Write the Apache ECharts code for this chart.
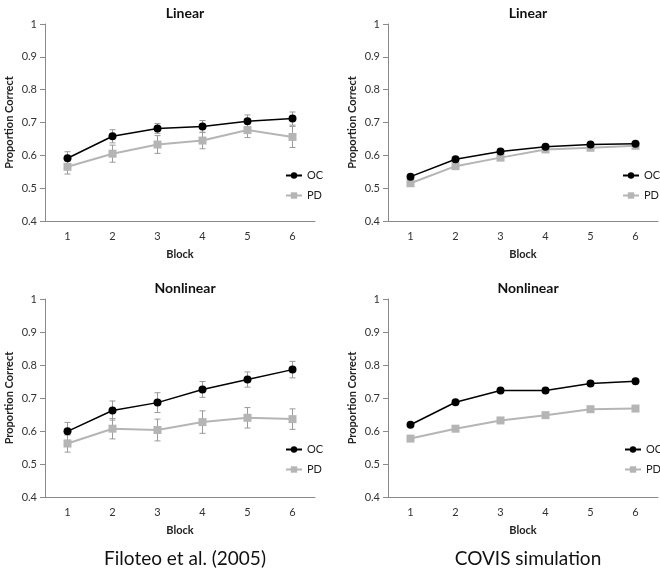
<!DOCTYPE html>
<html>
<head>
<meta charset="utf-8">
<script src="https://cdn.jsdelivr.net/npm/echarts@6/dist/echarts.min.js"></script>
<style>html,body{margin:0;padding:0;background:#fff}#c{width:660px;height:568px}</style>
</head>
<body>
<div id="c"></div>
<script>
const blocks = ['1', '2', '3', '4', '5', '6'];
const yTicks = [0.4, 0.5, 0.6, 0.7, 0.8, 0.9, 1];

// Filoteo et al. (2005) - Linear
const filLinOC = [0.591, 0.658, 0.682, 0.688, 0.704, 0.712];
const filLinOCErr = [0.020, 0.020, 0.015, 0.018, 0.019, 0.020];
const filLinPD = [0.565, 0.605, 0.633, 0.645, 0.677, 0.656];
const filLinPDErr = [0.022, 0.026, 0.027, 0.025, 0.023, 0.032];
// COVIS simulation - Linear
const covLinOC = [0.535, 0.588, 0.612, 0.626, 0.633, 0.635];
const covLinPD = [0.515, 0.567, 0.593, 0.618, 0.623, 0.629];
// Filoteo et al. (2005) - Nonlinear
const filNonOC = [0.599, 0.662, 0.686, 0.726, 0.756, 0.786];
const filNonOCErr = [0.027, 0.029, 0.030, 0.024, 0.023, 0.025];
const filNonPD = [0.562, 0.607, 0.603, 0.627, 0.640, 0.636];
const filNonPDErr = [0.026, 0.031, 0.033, 0.034, 0.031, 0.031];
// COVIS simulation - Nonlinear
const covNonOC = [0.619, 0.687, 0.723, 0.723, 0.744, 0.751];
const covNonPD = [0.577, 0.607, 0.632, 0.648, 0.666, 0.668];

const panelTitles = ['Linear', 'Linear', 'Nonlinear', 'Nonlinear'];
const footnotes = ['Filoteo et al. (2005)', 'COVIS simulation'];

const FONT = 'Lato, "Open Sans", sans-serif';
const OC_COLOR = '#000000';
const PD_COLOR = '#b5b5b5';
const ERR_COLOR = '#9a9a9a';

const grids = [
  {left: 45, top: 24, width: 270, height: 197},
  {left: 388, top: 24, width: 270, height: 197},
  {left: 45, top: 299, width: 270, height: 198},
  {left: 388, top: 299, width: 270, height: 198}
];
const legendLeft = [285, 622, 285, 624];
const legendTopOffset = [146, 146, 145, 145];

const panels = [
  {oc: filLinOC, pd: filLinPD, ocErr: filLinOCErr, pdErr: filLinPDErr},
  {oc: covLinOC, pd: covLinPD},
  {oc: filNonOC, pd: filNonPD, ocErr: filNonOCErr, pdErr: filNonPDErr},
  {oc: covNonOC, pd: covNonPD}
];

function errRender(params, api) {
  const x = api.value(0);
  const lo = api.coord([x, api.value(1)]);
  const hi = api.coord([x, api.value(2)]);
  const w = 3;
  const st = {stroke: ERR_COLOR, lineWidth: 1};
  return {
    type: 'group',
    children: [
      {type: 'line', shape: {x1: lo[0], y1: lo[1], x2: hi[0], y2: hi[1]}, style: st},
      {type: 'line', shape: {x1: lo[0] - w, y1: lo[1], x2: lo[0] + w, y2: lo[1]}, style: st},
      {type: 'line', shape: {x1: hi[0] - w, y1: hi[1], x2: hi[0] + w, y2: hi[1]}, style: st}
    ]
  };
}

const xAxes = [], yAxes = [], series = [], titles = [], legends = [];

grids.forEach((g, i) => {
  xAxes.push({
    type: 'category', gridIndex: i, data: blocks, boundaryGap: true,
    name: 'Block', nameLocation: 'middle', nameGap: 28,
    nameTextStyle: {fontFamily: FONT, fontWeight: 'bold', fontSize: 11, color: '#222'},
    axisLine: {lineStyle: {color: '#8a8a8a', width: 1}},
    axisTick: {inside: true, length: 4, lineStyle: {color: '#8a8a8a'}},
    axisLabel: {fontFamily: FONT, fontSize: 11, color: '#333', margin: 10},
    splitLine: {show: false}
  });
  yAxes.push({
    type: 'value', gridIndex: i, min: 0.4, max: 1, interval: 0.1,
    name: 'Proportion Correct', nameLocation: 'middle', nameGap: 30,
    nameTextStyle: {fontFamily: FONT, fontWeight: 'bold', fontSize: 11, color: '#222'},
    axisLine: {show: true, lineStyle: {color: '#8a8a8a', width: 1}},
    axisTick: {show: true, length: 5, lineStyle: {color: '#8a8a8a'}},
    axisLabel: {fontFamily: FONT, fontSize: 11, color: '#333', margin: 8,
      formatter: v => String(Math.round(v * 10) / 10)},
    splitLine: {show: false}
  });
  const p = panels[i];
  if (p.ocErr) {
    series.push({
      type: 'custom', name: 'OC err', xAxisIndex: i, yAxisIndex: i, z: 1,
      renderItem: errRender,
      data: p.oc.map((v, k) => [k, v - p.ocErr[k], v + p.ocErr[k]])
    });
    series.push({
      type: 'custom', name: 'PD err', xAxisIndex: i, yAxisIndex: i, z: 1,
      renderItem: errRender,
      data: p.pd.map((v, k) => [k, v - p.pdErr[k], v + p.pdErr[k]])
    });
  }
  series.push({
    type: 'line', name: 'PD', xAxisIndex: i, yAxisIndex: i, data: p.pd, z: 2,
    symbol: 'rect', symbolSize: 8,
    lineStyle: {color: PD_COLOR, width: 2}, itemStyle: {color: PD_COLOR},
    emphasis: {disabled: true}
  });
  series.push({
    type: 'line', name: 'OC', xAxisIndex: i, yAxisIndex: i, data: p.oc, z: 3,
    symbol: 'circle', symbolSize: 8,
    lineStyle: {color: OC_COLOR, width: 1.5}, itemStyle: {color: OC_COLOR},
    emphasis: {disabled: true}
  });
  titles.push({
    text: panelTitles[i], left: g.left + g.width / 2, top: g.top - 23, textAlign: 'center',
    textStyle: {fontFamily: FONT, fontWeight: 'bold', fontSize: 14, color: '#111'}
  });
  legends.push({
    data: ['OC', 'PD'], orient: 'vertical', padding: 0,
    left: legendLeft[i], top: g.top + legendTopOffset[i],
    itemWidth: 16, itemHeight: 8, itemGap: 9,
    textStyle: {fontFamily: FONT, fontSize: 11, color: '#222'},
    selectedMode: false
  });
});

footnotes.forEach((t, j) => {
  const g = grids[2 + j];
  titles.push({
    text: t, left: g.left + g.width / 2, top: 544, textAlign: 'center',
    textStyle: {fontFamily: FONT, fontWeight: 'normal', fontSize: 19, color: '#111'}
  });
});

const chart = echarts.init(document.getElementById('c'), null, {renderer: 'canvas'});
chart.setOption({
  animation: false,
  backgroundColor: '#fff',
  title: titles,
  legend: legends,
  grid: grids,
  xAxis: xAxes,
  yAxis: yAxes,
  series: series
});
</script>
</body>
</html>
